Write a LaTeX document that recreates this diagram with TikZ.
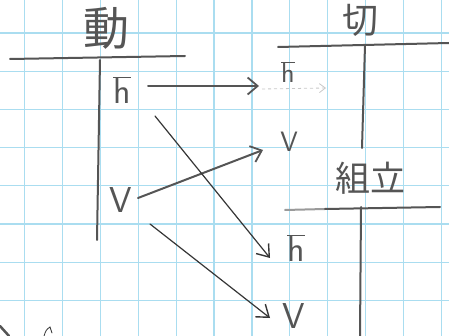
\documentclass[tikz,border=0pt]{standalone}
\usepackage{fontspec}
\newfontfamily\cjk{Noto Sans CJK JP}
\usetikzlibrary{arrows.meta}
\definecolor{gridblue}{HTML}{AADDF0}
\definecolor{pencil}{HTML}{555555}
\definecolor{pencildark}{HTML}{363636}
\definecolor{faint}{HTML}{C8C8C8}
\begin{document}
\begin{tikzpicture}[x=1pt,y=-1pt,
  gridline/.style={draw=gridblue, line width=1.2pt},
  pen/.style={draw=pencil, line width=2pt, line cap=round},
  thinpen/.style={draw=pencildark, line width=1.2pt, line cap=round},
  arr/.style={-{Straight Barb[length=10pt,width=17pt,line width=1.8pt]}},
  thinarr/.style={-{Straight Barb[length=11pt,width=16pt,line width=1.4pt]}},
  lbl/.style={text=pencil, font=\sffamily\fontsize{36}{36}\selectfont, inner sep=0pt},
  smalllbl/.style={text=pencil, font=\sffamily\fontsize{28}{28}\selectfont, inner sep=0pt},
  kanji/.style={text=pencil, inner sep=0pt}]
\fill[white] (0,0) rectangle (449,336);
\useasboundingbox (0,0) rectangle (449,336);
% graph paper
\foreach \x in {24.5,62.4,100.3,138.2,176.1,214,251.9,289.8,327.7,365.6,403.5,441.4}
  \draw[gridline] (\x,0) -- (\x,336);
\foreach \y in {33,71.2,109.4,147.6,185.8,224,262.2,300.4}
  \draw[gridline] (0,\y) -- (449,\y);

% titles
\node[kanji, font=\cjk\fontsize{46}{46}\selectfont] (dou) at (106,28) {動};
\node[kanji, font=\cjk\fontsize{36}{36}\selectfont] (setsu) at (360,20) {切};
\node[kanji, font=\cjk\fontsize{35}{35}\selectfont] (kumi) at (370,178) {組立};

% T bars
\coordinate (t1l) at (10,59);  \coordinate (t1r) at (185,56);
\coordinate (t1t) at (100,60); \coordinate (t1b) at (97,240);
\coordinate (t2l) at (278,47); \coordinate (t2r) at (449,43);
\coordinate (t2t) at (365,45); \coordinate (t2b) at (362,148);
\coordinate (t3f) at (285,210); \coordinate (t3l) at (325,209); \coordinate (t3r) at (440,207);
\coordinate (t3t) at (361,207); \coordinate (t3b) at (360,336);
\draw[pen] (t1l) -- (t1r);
\draw[pen] (t1t) -- (t1b);
\draw[pen] (t2l) -- (t2r);
\draw[pen] (t2t) -- (t2b);
\draw[pen, draw=faint!60!pencil] (t3f) -- (t3l);
\draw[pen] (t3l) -- (t3r);
\draw[pen] (t3t) -- (t3b);

% labels
\node[lbl] (h1) at (122,90) {$\overline{\mathsf{h}}$};
\node[lbl] (v1) at (121,200) {V};
\node[smalllbl] (h2) at (288,72) {$\overline{\mathsf{h}}$};
\node[smalllbl] (v2) at (289,142) {V};
\node[lbl] (h3) at (296,248) {$\overline{\mathsf{h}}$};
\node[lbl] (v3) at (294,316) {V};

% arrows
\coordinate (a1s) at (148,86);  \coordinate (a1e) at (259,86);
\coordinate (a1fs) at (262,89); \coordinate (a1fe) at (326,88);
\coordinate (a2s) at (138,198); \coordinate (a2e) at (263,150);
\coordinate (a3s) at (155,116); \coordinate (a3e) at (270,258);
\coordinate (a4s) at (150,224); \coordinate (a4e) at (270,318);
\draw[pen, arr] (a1s) -- (a1e);
\draw[faint, line width=0.8pt, dashed, -{Straight Barb[length=6pt,width=9pt]}] (a1fs) -- (a1fe);
\draw[pen, arr] (a2s) -- (a2e);
\draw[thinpen, thinarr] (a3s) -- (a3e);
\draw[thinpen, thinarr] (a4s) -- (a4e);

% stray marks at the bottom edge
\coordinate (m1s) at (0,326); \coordinate (m1e) at (9,336);
\coordinate (m2s) at (44,336); \coordinate (m2e) at (50,327);
\draw[pen, line width=2.5pt] (m1s) -- (m1e);
\draw[thinpen, line width=0.8pt] (m2s) .. controls (46,330) .. (m2e) -- (52,333);
\end{tikzpicture}
\end{document}
